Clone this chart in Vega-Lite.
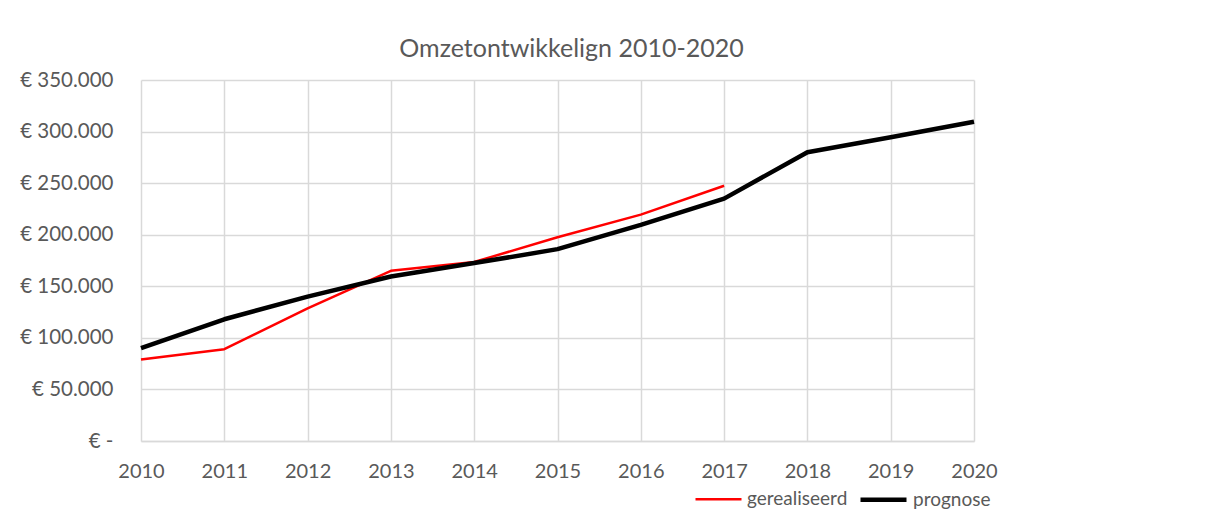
{
  "$schema": "https://vega.github.io/schema/vega-lite/v6.json",
  "width": 833,
  "height": 361,
  "autosize": {"type": "none"},
  "padding": {"left": 141, "top": 80, "right": 240, "bottom": 72},
  "background": "white",
  "title": {
    "text": "Omzetontwikkelign 2010-2020",
    "font": "Lato",
    "fontSize": 25,
    "fontWeight": "normal",
    "color": "#595959",
    "anchor": "middle",
    "dx": 14,
    "offset": 8
  },
  "data": {
    "values": [
      {"jaar": 2010, "reeks": "gerealiseerd", "omzet": 79000},
      {"jaar": 2011, "reeks": "gerealiseerd", "omzet": 89000},
      {"jaar": 2012, "reeks": "gerealiseerd", "omzet": 128500},
      {"jaar": 2013, "reeks": "gerealiseerd", "omzet": 165000},
      {"jaar": 2014, "reeks": "gerealiseerd", "omzet": 173500},
      {"jaar": 2015, "reeks": "gerealiseerd", "omzet": 197500},
      {"jaar": 2016, "reeks": "gerealiseerd", "omzet": 219500},
      {"jaar": 2017, "reeks": "gerealiseerd", "omzet": 247500},
      {"jaar": 2010, "reeks": "prognose", "omzet": 90000},
      {"jaar": 2011, "reeks": "prognose", "omzet": 118000},
      {"jaar": 2012, "reeks": "prognose", "omzet": 140000},
      {"jaar": 2013, "reeks": "prognose", "omzet": 159500},
      {"jaar": 2014, "reeks": "prognose", "omzet": 172500},
      {"jaar": 2015, "reeks": "prognose", "omzet": 186000},
      {"jaar": 2016, "reeks": "prognose", "omzet": 209500},
      {"jaar": 2017, "reeks": "prognose", "omzet": 235000},
      {"jaar": 2018, "reeks": "prognose", "omzet": 280000},
      {"jaar": 2019, "reeks": "prognose", "omzet": 294500},
      {"jaar": 2020, "reeks": "prognose", "omzet": 309500}
    ]
  },
  "mark": {"type": "line", "strokeCap": "butt", "strokeJoin": "round"},
  "encoding": {
    "x": {
      "field": "jaar",
      "type": "quantitative",
      "scale": {"domain": [2010, 2020], "nice": false, "zero": false},
      "axis": {
        "title": null,
        "values": [2010, 2011, 2012, 2013, 2014, 2015, 2016, 2017, 2018, 2019, 2020],
        "format": "d",
        "labelFlush": false,
        "labelOverlap": false,
        "labelBound": false,
        "grid": true,
        "gridColor": "#d9d9d9",
        "gridWidth": 1.5,
        "domainColor": "#d9d9d9",
        "domainWidth": 1.5,
        "ticks": false,
        "labelPadding": 20,
        "labelFont": "Lato",
        "labelFontSize": 20,
        "labelColor": "#595959"
      }
    },
    "y": {
      "field": "omzet",
      "type": "quantitative",
      "scale": {"domain": [0, 350000], "nice": false},
      "axis": {
        "title": null,
        "values": [0, 50000, 100000, 150000, 200000, 250000, 300000, 350000],
        "labelExpr": "datum.value == 0 ? '€ -\u00a0\u00a0\u00a0' : '€ ' + replace(format(datum.value, ',d'), ',', '.')",
        "labelFlush": false,
        "labelOverlap": false,
        "grid": true,
        "gridColor": "#d9d9d9",
        "gridWidth": 1.5,
        "domain": false,
        "ticks": false,
        "labelPadding": 28,
        "labelFont": "Lato",
        "labelFontSize": 20.5,
        "labelColor": "#595959"
      }
    },
    "color": {
      "field": "reeks",
      "type": "nominal",
      "scale": {"domain": ["gerealiseerd", "prognose"], "range": ["#ff0000", "#000000"]},
      "legend": {
        "title": null,
        "orient": "none",
        "direction": "horizontal",
        "legendX": 553,
        "legendY": 394,
        "symbolType": "stroke",
        "symbolSize": 2116,
        "labelOffset": 4,
        "columnPadding": 3,
        "labelFont": "Lato",
        "labelFontSize": 19,
        "labelColor": "#595959"
      }
    },
    "strokeWidth": {
      "field": "reeks",
      "type": "nominal",
      "scale": {"domain": ["gerealiseerd", "prognose"], "range": [2.5, 4.5]},
      "legend": {
        "title": null,
        "orient": "none",
        "direction": "horizontal",
        "legendX": 553,
        "legendY": 394,
        "symbolType": "stroke",
        "symbolSize": 2116,
        "labelOffset": 4,
        "columnPadding": 3,
        "labelFont": "Lato",
        "labelFontSize": 19,
        "labelColor": "#595959"
      }
    }
  },
  "config": {"view": {"stroke": null}}
}
